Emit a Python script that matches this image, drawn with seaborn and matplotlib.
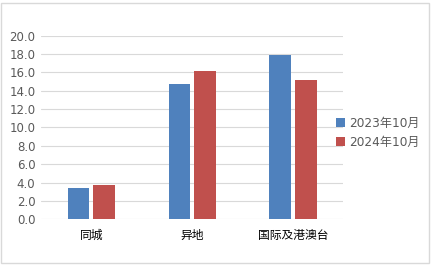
import matplotlib
matplotlib.use("Agg")
import matplotlib.pyplot as plt
import seaborn as sns
import pandas as pd
from matplotlib.patches import Rectangle, Patch

categories = ["同城", "异地", "国际及港澳台"]
series_names = ["2023年10月", "2024年10月"]
values_2023 = [3.44, 14.77, 17.93]
values_2024 = [3.77, 16.19, 15.17]
yticks = [0, 2, 4, 6, 8, 10, 12, 14, 16, 18, 20]
colors = ["#4F81BD", "#C0504D"]

df = pd.DataFrame({
    "cat": categories * 2,
    "series": [series_names[0]] * 3 + [series_names[1]] * 3,
    "value": values_2023 + values_2024,
})

sns.set_theme(style="white")
plt.rcParams['font.family'] = ['DejaVu Sans', 'Noto Sans CJK SC']

fig = plt.figure(figsize=(4.32, 2.65), dpi=100)
ax = fig.add_axes([0.0949, 0.1725, 0.7, 0.6928])
sns.barplot(data=df, x="cat", y="value", hue="series", palette=colors,
            width=0.509, gap=0.155, ax=ax, legend=False, saturation=1,
            linewidth=0)
ax.set_ylim(0, 20)
ax.set_xlim(-0.5, 2.5)
ax.set_yticks(yticks)
ax.set_yticklabels([f"{v:.1f}" for v in yticks])
ax.set_xlabel("")
ax.set_ylabel("")
for s in ax.spines.values():
    s.set_visible(False)
ax.yaxis.grid(True, color="#d9d9d9", linewidth=0.8)
ax.set_axisbelow(True)
ax.tick_params(axis="both", length=0, labelsize=8.5, colors="#595959", pad=4)
ax.tick_params(axis="x", pad=7, labelcolor="#000000")

handles = [Patch(facecolor=c, linewidth=0) for c in colors]
fig.legend(handles, series_names, loc="center left", bbox_to_anchor=(0.752, 0.5),
           frameon=False, fontsize=8.7, handlelength=0.75, handleheight=0.75,
           handletextpad=0.35, labelspacing=0.5, labelcolor="#595959")

fig.patches.append(Rectangle((0.003, 0.006), 0.99, 0.983, transform=fig.transFigure,
                             fill=False, edgecolor="#d9d9d9", linewidth=1))
fig.savefig("out.png", dpi=100)
